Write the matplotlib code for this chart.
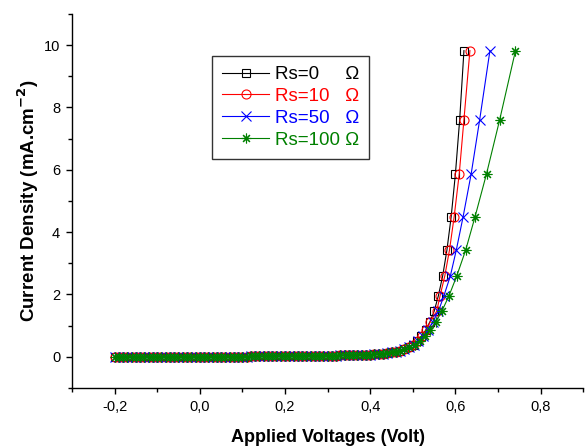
import numpy as np
import matplotlib.pyplot as plt
from matplotlib.ticker import MultipleLocator, FuncFormatter

plt.rcParams['font.family'] = ['Liberation Sans', 'DejaVu Sans']

# voltage sweep (V), common to all curves below the knee
V_low = [-0.20, -0.19, -0.18, -0.17, -0.16, -0.15, -0.14, -0.13, -0.12, -0.11,
         -0.10, -0.09, -0.08, -0.07, -0.06, -0.05, -0.04, -0.03, -0.02, -0.01,
         0.00, 0.01, 0.02, 0.03, 0.04, 0.05, 0.06, 0.07, 0.08, 0.09,
         0.10, 0.11, 0.12, 0.13, 0.14, 0.15, 0.16, 0.17, 0.18, 0.19,
         0.20, 0.21, 0.22, 0.23, 0.24, 0.25, 0.26, 0.27, 0.28, 0.29,
         0.30, 0.31, 0.32, 0.33, 0.34, 0.35, 0.36, 0.37, 0.38, 0.39,
         0.40, 0.41, 0.42, 0.43, 0.44, 0.45, 0.46, 0.47, 0.48, 0.49]

# current density (mA.cm-2), same levels for every Rs
J_low = [0.00, 0.00, 0.00, 0.00, 0.00, 0.00, 0.00, 0.00, 0.00, 0.00,
         0.00, 0.00, 0.00, 0.00, 0.00, 0.01, 0.01, 0.01, 0.01, 0.01,
         0.01, 0.01, 0.01, 0.01, 0.01, 0.01, 0.01, 0.01, 0.01, 0.01,
         0.01, 0.01, 0.02, 0.02, 0.02, 0.02, 0.02, 0.02, 0.02, 0.02,
         0.02, 0.02, 0.03, 0.03, 0.03, 0.03, 0.03, 0.03, 0.04, 0.04,
         0.04, 0.04, 0.04, 0.05, 0.05, 0.05, 0.05, 0.06, 0.06, 0.06,
         0.07, 0.08, 0.09, 0.10, 0.12, 0.14, 0.17, 0.20, 0.25, 0.31]
J_high = [0.39, 0.50, 0.66, 0.85, 1.12, 1.46, 1.96, 2.59, 3.42, 4.49, 5.87, 7.61, 9.82]

# applied voltage above the knee for each series resistance
V_rs0 = [0.50, 0.51, 0.52, 0.53, 0.54, 0.55, 0.56, 0.57, 0.58, 0.59, 0.60, 0.61, 0.62]
V_rs10 = [0.500, 0.511, 0.521, 0.531, 0.541, 0.556, 0.564, 0.575, 0.586, 0.597, 0.609, 0.620, 0.634]
V_rs50 = [0.502, 0.513, 0.524, 0.535, 0.547, 0.560, 0.573, 0.588, 0.602, 0.618, 0.637, 0.657, 0.681]
V_rs100 = [0.505, 0.516, 0.528, 0.540, 0.554, 0.568, 0.585, 0.603, 0.624, 0.646, 0.673, 0.704, 0.741]

labels = ['Rs=0     \u03a9', 'Rs=10   \u03a9', 'Rs=50   \u03a9', 'Rs=100 \u03a9']
colors = ['black', 'red', 'blue', 'green']
markers = ['s', 'o', 'x', (8, 2, 0)]
sizes = [5.5, 6.5, 6.5, 7]

fig = plt.figure(figsize=(5.85, 4.46), dpi=100)
ax = fig.add_axes([0.123, 0.130, 0.874, 0.839])

J_all = J_low + J_high
for i, vt in enumerate([V_rs0, V_rs10, V_rs50, V_rs100]):
    ax.plot(V_low + vt, J_all, color=colors[i], marker=markers[i], ms=sizes[i],
            mfc='none', mec=colors[i], mew=0.8, lw=0.8, label=labels[i])

ax.set_xlim(-0.3, 0.9)
ax.set_ylim(-1, 11)
ax.xaxis.set_major_locator(MultipleLocator(0.2))
ax.xaxis.set_minor_locator(MultipleLocator(0.1))
ax.yaxis.set_major_locator(MultipleLocator(2))
ax.yaxis.set_minor_locator(MultipleLocator(1))
ax.xaxis.set_major_formatter(FuncFormatter(lambda v, p: ('%.1f' % v).replace('.', ',')))
ax.yaxis.set_major_formatter(FuncFormatter(lambda v, p: '%d' % round(v)))

ax.spines['top'].set_visible(False)
ax.spines['right'].set_visible(False)
for s in ['left', 'bottom']:
    ax.spines[s].set_linewidth(1.0)
ax.tick_params(which='major', direction='out', length=4.5, width=1.0, labelsize=10.5, pad=4)
ax.tick_params(which='minor', direction='out', length=3, width=1.0)

ax.set_xlabel('Applied Voltages (Volt)', fontsize=13, fontweight='bold', labelpad=11)
ax.set_ylabel('Current Density (mA.cm$^{\\mathbf{-2}}$)', fontsize=13.5, fontweight='bold', labelpad=2)

leg = ax.legend(loc='upper left', bbox_to_anchor=(0.274, 0.888), borderaxespad=0,
                fancybox=False, edgecolor='#333333', fontsize=13.5, handlelength=2.5,
                handletextpad=0.3, labelspacing=0.25, borderpad=0.55, framealpha=1)
leg.get_frame().set_linewidth(1.0)
for t, c in zip(leg.get_texts(), colors):
    t.set_color(c)

fig.savefig('out.png', dpi=100)
